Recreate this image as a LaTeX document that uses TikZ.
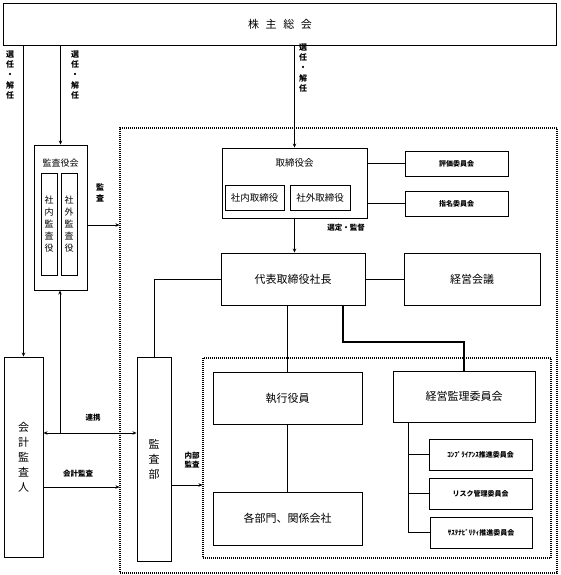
\documentclass[tikz,border=0pt]{standalone}
\usepackage{fontspec}
\setmainfont{Noto Sans CJK JP}
\usetikzlibrary{arrows.meta}
\begin{document}
\begin{tikzpicture}[x=1pt,y=-1pt,
  box/.style={draw,line width=0.9pt,inner sep=0pt,align=center},
  dotbox/.style={draw,line width=1.1pt,dash pattern=on 1pt off 1pt,inner sep=0pt},
  lbl/.style={inner sep=0pt,align=center,font=\fontsize{7.5}{9.5}\selectfont\bfseries},
  vt/.style={inner sep=0pt,align=center,font=\fontsize{8}{10.3}\selectfont\bfseries},
  ln/.style={line width=0.9pt},
  tk/.style={line width=1.8pt},
  arr/.style={line width=0.9pt,-{Stealth[length=4pt,width=3.5pt]}},
  darr/.style={line width=0.9pt,{Stealth[length=4pt,width=3.5pt]}-{Stealth[length=4pt,width=3.5pt]}},
  big/.style={font=\fontsize{11}{13}\selectfont},
  mid/.style={font=\fontsize{9.5}{12}\selectfont},
  sml/.style={font=\fontsize{7}{9}\selectfont\bfseries}
]
\useasboundingbox (0,0) rectangle (560,575);
% dotted regions
\node[dotbox,minimum width=437pt,minimum height=445pt] (outer) at (338.5,350.5) {};
\node[dotbox,minimum width=348pt,minimum height=200pt] (inner) at (377,458) {};
% top
\node[box,big,minimum width=553pt,minimum height=42pt] (kabu) at (280,24) {株\hspace{0.6em}主\hspace{0.6em}総\hspace{0.6em}会};
% kansayakukai
\node[box,minimum width=53pt,minimum height=145pt] (kansayaku) at (60.5,217.5) {};
\node[inner sep=0pt,font=\fontsize{9}{11}\selectfont] (kyt) at (60.5,163) {監査役会};
\node[box,minimum width=16pt,minimum height=102pt,font=\fontsize{9}{12}\selectfont] (shanaik) at (49,224) {社\\内\\監\\査\\役};
\node[box,minimum width=16pt,minimum height=102pt,font=\fontsize{9}{12}\selectfont] (shagaik) at (69,224) {社\\外\\監\\査\\役};
% kaikei kansanin
\node[box,minimum width=39pt,minimum height=200pt,font=\fontsize{11}{15}\selectfont] (kaikei) at (23.5,457) {会\\計\\監\\査\\人};
% kansabu
\node[box,minimum width=34pt,minimum height=204pt,font=\fontsize{11}{15}\selectfont] (kansabu) at (154,459) {監\\査\\部};
% torishimariyakukai
\node[box,minimum width=145pt,minimum height=70pt] (tori) at (294.5,183) {};
\node[inner sep=0pt,mid] (tt) at (294.5,163) {取締役会};
\node[box,mid,minimum width=59pt,minimum height=25pt] (shanait) at (254.5,197.5) {社内取締役};
\node[box,mid,minimum width=60pt,minimum height=25pt] (shagait) at (320,197.5) {社外取締役};
\node[box,sml,minimum width=103pt,minimum height=25pt] (hyoka) at (456.5,163.5) {評価委員会};
\node[box,sml,minimum width=103pt,minimum height=25pt] (shimei) at (456.5,203.5) {指名委員会};
% daihyo
\node[box,big,minimum width=144pt,minimum height=52pt] (daihyo) at (293,279) {代表取締役社長};
\node[box,big,minimum width=136pt,minimum height=52pt] (keiei) at (472,279) {経営会議};
% inner
\node[box,big,minimum width=149pt,minimum height=52pt] (shikko) at (287.5,398) {執行役員};
\node[box,big,minimum width=149pt,minimum height=53pt] (kakubu) at (287.5,518.5) {各部門、関係会社};
\node[box,big,minimum width=142pt,minimum height=51pt] (kanri) at (464,396.5) {経営監理委員会};
\node[box,sml,minimum width=103pt,minimum height=31pt] (comp) at (480.5,454.5) {ｺﾝﾌﾟﾗｲｱﾝｽ推進委員会};
\node[box,sml,minimum width=103pt,minimum height=31pt] (risk) at (480.5,493.5) {リスク管理委員会};
\node[box,sml,minimum width=102pt,minimum height=31pt] (sus) at (481,532.5) {ｻｽﾃﾅﾋﾞﾘﾃｨ推進委員会};
% labels
\node[vt] (l1) at (10,75) {選\\任\\・\\解\\任};
\node[vt] (l2) at (75,75) {選\\任\\・\\解\\任};
\node[vt] (l3) at (303,68) {選\\任\\・\\解\\任};
\node[vt] (l4) at (100,193) {監\\査};
\node[lbl] (l5) at (346,228) {選定・監督};
\node[lbl] (l6) at (93,418) {連携};
\node[lbl] (l7) at (78,474) {会計監査};
\node[lbl] (l8) at (192,460) {内部\\監査};
% coordinates
\coordinate (rk) at (60,433);
\coordinate (ka) at (43,487);
\coordinate (ns) at (171,485);
\coordinate (ks) at (87,225);
\coordinate (k1) at (343,342);
\coordinate (b0) at (408,422);
% connectors
\draw[arr] (kabu.south -| kaikei.north) -- (kaikei.north);
\draw[arr] (kabu.south -| kansayaku.north) -- (kansayaku.north);
\draw[arr] (kabu.south -| tori.north) -- (tori.north);
\draw[arr] (ks) -- (outer.west |- ks);
\draw[darr] (kaikei.east |- rk) -- (kansabu.west |- rk);
\draw[arr] (rk) -- (kansayaku.south -| rk);
\draw[arr] (kaikei.east |- ka) -- (outer.west |- ka);
\draw[ln] (kansabu.north) |- (daihyo.west);
\draw[arr] (ns) -- (inner.west |- ns);
\draw[tk] (tori.east |- hyoka.west) -- (hyoka.west);
\draw[tk] (tori.east |- shimei.west) -- (shimei.west);
\draw[arr] (tori.south) -- (tori.south |- daihyo.north);
\draw[ln] (daihyo.east) -- (keiei.west);
\draw[ln] (shikko.north |- daihyo.south) -- (shikko.north);
\draw[tk] (daihyo.south -| k1) -- (k1) -| (kanri.north);
\draw[ln] (shikko.south) -- (kakubu.north);
\draw[ln] (kanri.south -| b0) |- (sus.west);
\draw[ln] (comp.west -| b0) -- (comp.west);
\draw[tk] (risk.west -| b0) -- (risk.west);
\end{tikzpicture}
\end{document}
